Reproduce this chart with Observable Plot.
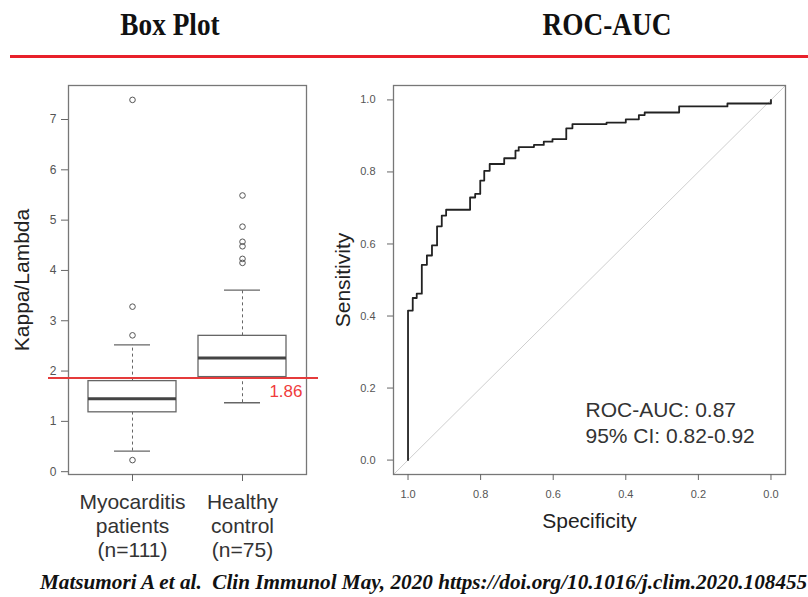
<!DOCTYPE html>
<html><head><meta charset="utf-8">
<script src="https://cdn.jsdelivr.net/npm/d3@7"></script>
<script src="https://cdn.jsdelivr.net/npm/@observablehq/plot@0.6"></script>
<style>
body{margin:0;background:#fff;}
#root{position:relative;width:808px;height:597px;overflow:hidden;font-family:"Liberation Sans",Arial,sans-serif;}
.title{position:absolute;top:9px;width:220px;text-align:center;font-family:"Liberation Serif","Times New Roman",serif;font-weight:bold;font-size:31px;line-height:31px;transform:scaleX(0.88);white-space:nowrap;color:#111;}
#rule{position:absolute;left:10px;right:0;top:55px;height:3px;background:#e8202a;}
#caption{position:absolute;left:40px;top:572px;font-family:"Liberation Serif","Times New Roman",serif;font-weight:bold;font-style:italic;font-size:21.2px;line-height:21px;white-space:pre;color:#111;}
#box{position:absolute;left:0;top:75px;}
#roc{position:absolute;left:320px;top:75px;}
</style></head>
<body>
<div id="root">
  <div class="title" style="left:60px">Box Plot</div>
  <div class="title" style="left:497px">ROC-AUC</div>
  <div id="rule"></div>
  <div id="box"></div>
  <div id="roc"></div>
  <div id="caption">Matsumori A et al.  Clin Immunol May, 2020 https://doi.org/10.1016/j.clim.2020.108455</div>
</div>
<script>
// ---- Box plot data ----
const groups = ["Myocarditis\npatients\n(n=111)", "Healthy\ncontrol\n(n=75)"];
const whiskerLow = [0.41, 1.37];
const q1 = [1.18, 1.88];
const median = [1.45, 2.26];
const q3 = [1.80, 2.70];
const whiskerHigh = [2.52, 3.61];
const outliersMyo = [0.23, 2.71, 3.28, 7.39];
const outliersHealthy = [4.15, 4.23, 4.48, 4.57, 4.87, 5.49];
const cutoff = 1.86;
const boxTicks = [0, 1, 2, 3, 4, 5, 6, 7];

// ---- ROC data (step corners, specificity descending) ----
const specificity = [1.0, 1.0, 0.987, 0.976, 0.962, 0.948, 0.934, 0.920, 0.907, 0.895, 0.829, 0.815, 0.801, 0.790, 0.775, 0.735, 0.704, 0.695, 0.653, 0.626, 0.602, 0.564, 0.547, 0.453, 0.400, 0.364, 0.348, 0.253, 0.120, 0.0];
const sensitivity = [0.0, 0.415, 0.450, 0.462, 0.542, 0.568, 0.596, 0.649, 0.679, 0.695, 0.729, 0.739, 0.776, 0.803, 0.822, 0.838, 0.859, 0.869, 0.875, 0.884, 0.891, 0.921, 0.933, 0.937, 0.946, 0.958, 0.965, 0.982, 0.990, 1.0];
const rocTicks = [0, 0.2, 0.4, 0.6, 0.8, 1.0];
const auc = 0.87, ciLow = 0.82, ciHigh = 0.92;

const stats = groups.map((g, i) => ({group: g, lo: whiskerLow[i], q1: q1[i], med: median[i], q3: q3[i], hi: whiskerHigh[i]}));
const outliers = [
  ...outliersMyo.map(v => ({group: groups[0], value: v})),
  ...outliersHealthy.map(v => ({group: groups[1], value: v}))
];

const font = "Liberation Sans, Arial, sans-serif";
const boxPlot = Plot.plot({
  width: 320, height: 485,
  marginLeft: 68, marginRight: 14, marginTop: 10, marginBottom: 86,
  style: {fontFamily: font, background: "transparent", overflow: "visible"},
  x: {type: "band", domain: groups, paddingInner: 0.2, paddingOuter: 0.18},
  y: {domain: [-0.056, 7.676]},
  marks: [
    Plot.ruleX(stats, {x: "group", y1: "q3", y2: "hi", stroke: "#666", strokeDasharray: "3,3"}),
    Plot.ruleX(stats, {x: "group", y1: "lo", y2: "q1", stroke: "#666", strokeDasharray: "3,3"}),
    Plot.tickY(stats, {x: "group", y: "hi", insetLeft: 26, insetRight: 26, stroke: "#666", strokeWidth: 1.3}),
    Plot.tickY(stats, {x: "group", y: "lo", insetLeft: 26, insetRight: 26, stroke: "#666", strokeWidth: 1.3}),
    Plot.barY(stats, {x: "group", y1: "q1", y2: "q3", fill: "white", stroke: "#666", strokeWidth: 1.3}),
    Plot.tickY(stats, {x: "group", y: "med", stroke: "#444", strokeWidth: 3}),
    Plot.dot(outliers, {x: "group", y: "value", r: 2.8, stroke: "#555", strokeWidth: 1}),
    Plot.frame({stroke: "#777", strokeWidth: 1.3}),
    Plot.ruleY([cutoff], {stroke: "#e53b3b", strokeWidth: 2, insetLeft: -20, insetRight: -12}),
    Plot.text([cutoff], {y: d => d, text: d => d.toFixed(2), frameAnchor: "right", textAnchor: "end", dx: -4, dy: 13, fill: "#f03c3c", fontSize: 17}),
    Plot.axisY({ticks: boxTicks, tickSize: 7, tickPadding: 5, fontSize: 12, stroke: "#666", fill: "#555", label: null}),
    Plot.axisX({tickSize: 7, tickPadding: 10, fontSize: 21, lineHeight: 1.15, stroke: "#666", fill: "#333", label: null}),
    Plot.text(["Kappa/Lambda"], {text: d => d, frameAnchor: "left", textAnchor: "middle", lineAnchor: "middle", rotate: -90, dx: -46, fontSize: 21, fill: "#222"})
  ]
});
document.getElementById("box").appendChild(boxPlot);

const roc = specificity.map((s, i) => ({spec: s, sens: sensitivity[i]}));
const xDomain = [1.04, -0.04];
const diag = xDomain.map(s => ({spec: s, sens: 1 - s}));
const rocPlot = Plot.plot({
  width: 480, height: 485,
  marginLeft: 73, marginRight: 15, marginTop: 10, marginBottom: 86,
  style: {fontFamily: font, background: "transparent", overflow: "visible"},
  x: {domain: xDomain},
  y: {domain: [-0.04, 1.04]},
  marks: [
    Plot.line(diag, {x: "spec", y: "sens", stroke: "#cfcfcf", strokeWidth: 1}),
    Plot.line(roc, {x: "spec", y: "sens", curve: "step-after", stroke: "#222", strokeWidth: 1.8}),
    Plot.frame({stroke: "#777", strokeWidth: 1.3}),
    Plot.axisX({ticks: rocTicks, tickFormat: d3.format(".1f"), tickSize: 6, tickPadding: 10, fontSize: 11, stroke: "#666", fill: "#555", label: null}),
    Plot.axisY({ticks: rocTicks, tickFormat: d3.format(".1f"), tickSize: 6, tickPadding: 12, fontSize: 11, stroke: "#666", fill: "#555", label: null}),
    Plot.text(["Specificity"], {text: d => d, frameAnchor: "bottom", lineAnchor: "middle", dy: 47, fontSize: 21, fill: "#222"}),
    Plot.text(["Sensitivity"], {text: d => d, frameAnchor: "left", textAnchor: "middle", lineAnchor: "middle", rotate: -90, dx: -50, fontSize: 21, fill: "#222"}),
    Plot.text([`ROC-AUC: ${auc.toFixed(2)}\n95% CI: ${ciLow.toFixed(2)}-${ciHigh.toFixed(2)}`], {text: d => d, frameAnchor: "bottom", textAnchor: "start", lineAnchor: "middle", dx: -4, dy: -52.5, lineHeight: 1.2, fontSize: 21, fill: "#333"})
  ]
});
document.getElementById("roc").appendChild(rocPlot);
</script>
</body></html>
